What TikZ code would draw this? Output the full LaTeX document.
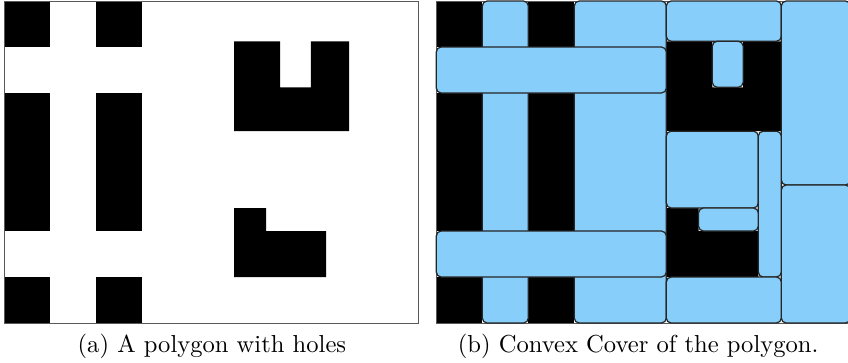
\documentclass[tikz,border=0pt]{standalone}
\definecolor{coverblue}{RGB}{135,206,250}
\tikzset{
  hole/.style={fill=black, draw=none},
  frame/.style={draw=black!65, line width=0.4pt},
  cover/.style={fill=coverblue, draw=black!85, line width=0.5pt, rounded corners=2pt},
  caption/.style={anchor=base, inner sep=0pt, font=\normalsize}
}
\newcommand{\polyholes}{%
  \fill[white] (0,0) rectangle (9,7);
  \foreach \x in {0,2}{
    \path[hole] (\x,0) rectangle (\x+1,1);
    \path[hole] (\x,2) rectangle (\x+1,5);
    \path[hole] (\x,6) rectangle (\x+1,7);
  }
  \path[hole] (5,0.875) -- (6,0.875) -- (6,1.875) -- (6.67,1.875) -- (6.67,0.875)
     -- (7.5,0.875) -- (7.5,2.83) -- (5,2.83) -- cycle;
  \path[hole] (5,4.5) -- (5.7,4.5) -- (5.7,5) -- (7,5) -- (7,6) -- (5,6) -- cycle;
  \draw[frame] (0,0) rectangle (9,7);
}
\begin{document}
\begin{tikzpicture}
\useasboundingbox (0,0) rectangle (12.1264,-5.1766);
% (a) polygon with holes
\begin{scope}[shift={(0.0572cm,-0.0143cm)}, x=0.6578cm, y=-0.6578cm]
  \polyholes
\end{scope}
% (b) convex cover
\begin{scope}[shift={(6.2391cm,-0.0143cm)}, x=0.6578cm, y=-0.6578cm]
  \polyholes
  \draw[cover] (1,0) rectangle (2,7);
  \draw[cover] (3,0) rectangle (5,7);
  \draw[cover] (5,0) rectangle (7.5,0.875);
  \draw[cover] (7.5,0) rectangle (9,4);
  \draw[cover] (7.5,4) rectangle (9,7);
  \draw[cover] (0,1) rectangle (5,2);
  \draw[cover] (0,5) rectangle (5,6);
  \draw[cover] (6,0.875) rectangle (6.67,1.875);
  \draw[cover] (5,2.83) rectangle (7,4.5);
  \draw[cover] (7,2.83) rectangle (7.5,6);
  \draw[cover] (5.7,4.5) rectangle (7,5);
  \draw[cover] (5,6) rectangle (7.5,7);
\end{scope}
\node[caption] (capa) at (3.03,-5.04) {(a) A polygon with holes};
\node[caption] (capb) at (9.125,-5.04) {(b) Convex Cover of the polygon.};
\end{tikzpicture}
\end{document}
